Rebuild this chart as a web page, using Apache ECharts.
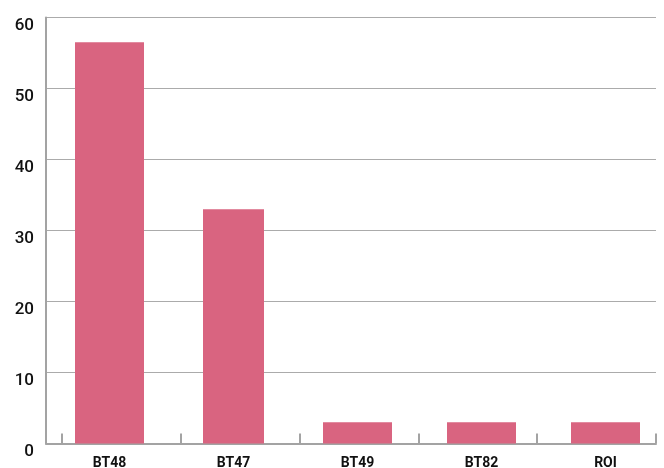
<!DOCTYPE html>
<html>
<head>
<meta charset="utf-8">
<script src="https://cdn.jsdelivr.net/npm/echarts@6/dist/echarts.min.js"></script>
<style>html,body{margin:0;padding:0;background:#fff}#c{width:664px;height:468px}</style>
</head>
<body>
<div id="c"></div>
<script>
var categories = ['BT48', 'BT47', 'BT49', 'BT82', 'ROI'];
var values = [56.5, 33, 3, 3, 3];
var yTicks = [0, 10, 20, 30, 40, 50, 60];
var narrowIndex = 1;

var wideData = values.map(function (v, i) { return i === narrowIndex ? '-' : v; });
var narrowData = values.map(function (v, i) { return i === narrowIndex ? v : '-'; });

var chart = echarts.init(document.getElementById('c'), null, {renderer: 'canvas'});
var TOP = 17.5, BOTTOM = 24.5;
var yMin = yTicks[0], yMax = yTicks[yTicks.length - 1], yInt = yTicks[1] - yTicks[0];
var hiddenY = function (g) {
  return {type: 'value', gridIndex: g, min: yMin, max: yMax, interval: yInt, show: false};
};
function mkGrid(o) {
  o.top = TOP; o.bottom = BOTTOM; o.containLabel = false; o.outerBoundsMode = 'none';
  return o;
}
chart.setOption({
  animation: false,
  grid: [
    mkGrid({left: 46, right: 8}),
    mkGrid({left: 62, right: 8}),
    mkGrid({left: 47.5, width: 620}),
    mkGrid({left: 47.5, width: 620})
  ],
  yAxis: [
    {
      type: 'value', gridIndex: 0, min: yMin, max: yMax, interval: yInt,
      axisLine: {show: true, lineStyle: {color: '#a3a3a3', width: 2}},
      axisTick: {show: false},
      splitLine: {show: true, lineStyle: {color: '#ababab', width: 1}},
      axisLabel: {
        color: '#111', fontSize: 17, fontFamily: 'Roboto', fontWeight: 500,
        margin: 12, verticalAlign: 'top', lineHeight: 17
      }
    },
    hiddenY(1), hiddenY(2), hiddenY(3)
  ],
  xAxis: [
    {
      type: 'value', gridIndex: 0, min: 0, max: 1,
      axisLine: {show: true, onZero: false, lineStyle: {color: '#a3a3a3', width: 2}},
      axisTick: {show: false}, axisLabel: {show: false}, splitLine: {show: false}
    },
    {
      type: 'value', gridIndex: 1, min: 0, max: categories.length, interval: 1,
      axisLine: {show: false},
      axisTick: {show: true, inside: true, length: 10, lineStyle: {color: '#a3a3a3', width: 2}},
      axisLabel: {show: false}, splitLine: {show: false}
    },
    {
      type: 'category', gridIndex: 2, data: categories,
      axisLine: {show: false}, axisTick: {show: false},
      axisLabel: {color: '#111', fontSize: 14, fontFamily: 'Roboto', fontWeight: 'bold', margin: 13}
    },
    {
      type: 'category', gridIndex: 3, data: categories, show: false
    }
  ],
  series: [
    {
      type: 'bar', xAxisIndex: 2, yAxisIndex: 2, data: wideData, barWidth: 69,
      itemStyle: {color: '#d96480'}
    },
    {
      type: 'bar', xAxisIndex: 3, yAxisIndex: 3, data: narrowData, barWidth: 61,
      itemStyle: {color: '#d96480'}
    }
  ]
});
</script>
</body>
</html>
